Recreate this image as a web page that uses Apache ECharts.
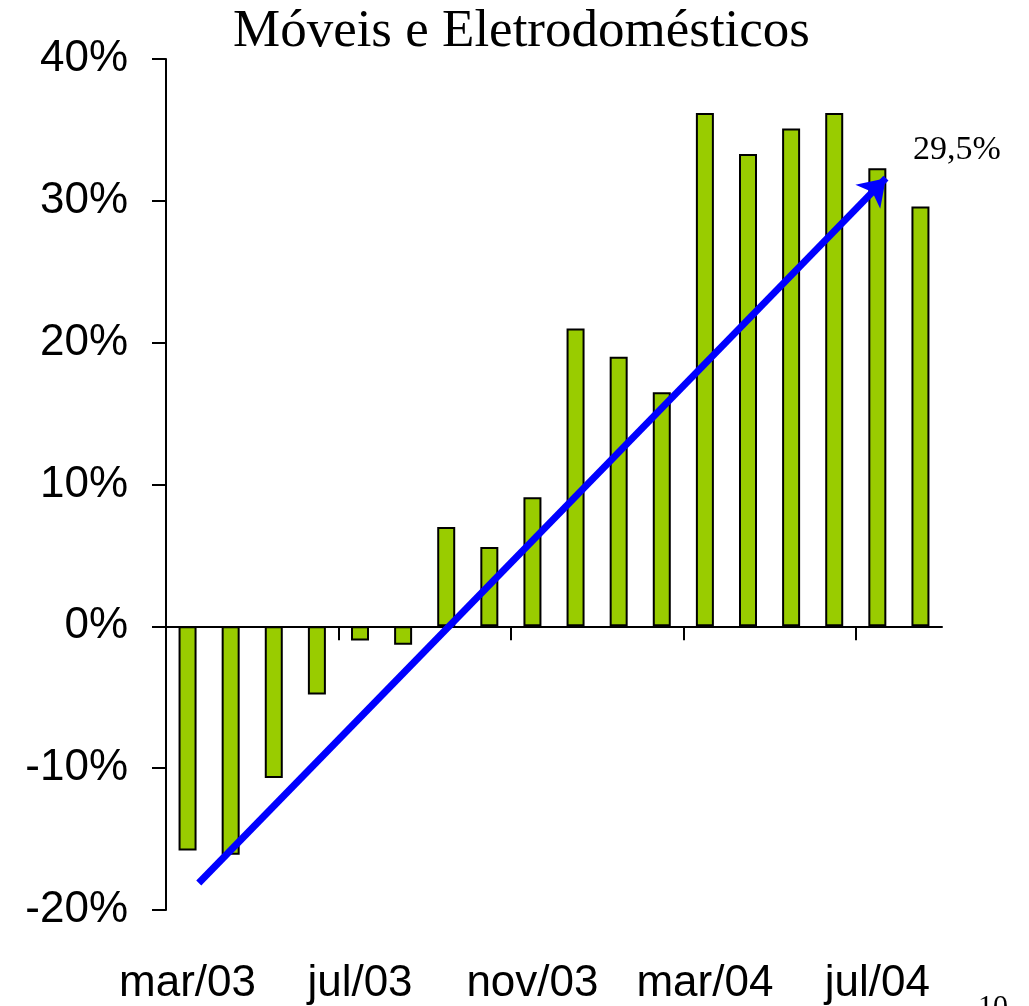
<!DOCTYPE html>
<html>
<head>
<meta charset="utf-8">
<title>Móveis e Eletrodomésticos</title>
<script src="https://cdn.jsdelivr.net/npm/echarts@6/dist/echarts.min.js"></script>
<style>
html, body { margin: 0; padding: 0; background: #fff; }
#main { width: 1029px; height: 1006px; }
</style>
</head>
<body>
<div id="main"></div>
<script>
// meses (mar/03 .. ago/04)
var months = ['mar/03', 'abr/03', 'mai/03', 'jun/03', 'jul/03', 'ago/03', 'set/03', 'out/03', 'nov/03', 'dez/03',
              'jan/04', 'fev/04', 'mar/04', 'abr/04', 'mai/04', 'jun/04', 'jul/04', 'ago/04'];
// variação %
var values = [-15.8, -16.1, -10.7, -4.8, -1.0, -1.3, 7.0, 5.6, 9.1, 21.0,
              19.0, 16.5, 36.2, 33.3, 35.1, 36.2, 32.3, 29.6];
var yTicks = [-20, -10, 0, 10, 20, 30, 40];
// marcas do eixo zero: limites antes de mar, jul, nov, mar, jul
var xTickPos = [-0.5, 3.5, 7.5, 11.5, 15.5];
// seta de tendência: [posição no eixo das categorias, valor %]
var arrowStart = [0.26, -18.1];
var arrowEnd = [16.2, 31.6];
var lastLabel = '29,5%';

var chart = echarts.init(document.getElementById('main'));

var axisFont = 'Liberation Sans, Arial, sans-serif';
var serifFont = 'Liberation Serif, Times New Roman, serif';

var option = {
  animation: false,
  backgroundColor: '#fff',
  title: {
    text: 'Móveis e Eletrodomésticos',
    left: 228,
    top: 1,
    textStyle: { fontFamily: serifFont, fontSize: 53, fontWeight: 'normal', color: '#000' }
  },
  grid: { left: 166, right: 87, top: 59, bottom: 96, containLabel: false },
  xAxis: [
    {
      // só os rótulos, embaixo
      type: 'category',
      data: months,
      position: 'bottom',
      axisLine: { show: false, onZero: false },
      axisTick: { show: false },
      axisLabel: { interval: 3, fontSize: 44, margin: 52, color: '#000', fontFamily: axisFont }
    },
    {
      // linha do zero com marcas (eixo numérico escondido, mesma escala das categorias)
      type: 'value',
      position: 'bottom',
      min: -0.5,
      max: months.length - 0.5,
      splitLine: { show: false },
      axisLine: { show: true, onZero: true, lineStyle: { color: '#000', width: 2 } },
      axisTick: { show: true, customValues: xTickPos, length: 14, lineStyle: { color: '#000', width: 2 } },
      axisLabel: { show: false }
    }
  ],
  yAxis: {
    type: 'value',
    min: yTicks[0],
    max: yTicks[yTicks.length - 1],
    interval: 10,
    axisLine: { show: true, onZero: false, lineStyle: { color: '#000', width: 2 } },
    axisTick: { show: true, length: 14, lineStyle: { color: '#000', width: 2 } },
    splitLine: { show: false },
    axisLabel: { formatter: '{value}%', fontSize: 44, margin: 38, color: '#000', fontFamily: axisFont }
  },
  series: [
    {
      type: 'bar',
      xAxisIndex: 0,
      data: values,
      barWidth: 18,
      itemStyle: { color: '#99CC00', borderColor: '#000', borderWidth: 2 }
    },
    {
      type: 'line',
      xAxisIndex: 1,
      data: [arrowStart, arrowEnd],
      symbol: 'none',
      lineStyle: { opacity: 0 },
      silent: true,
      markLine: {
        silent: true,
        symbol: ['none', 'arrow'],
        symbolSize: 26,
        label: { show: false },
        lineStyle: { color: '#0000FF', width: 7, type: 'solid' },
        data: [[{ coord: arrowStart }, { coord: arrowEnd }]]
      }
    }
  ],
  graphic: [
    {
      type: 'text',
      left: 913,
      top: 133,
      style: { text: lastLabel, font: '34px ' + serifFont, fill: '#000' }
    },
    {
      type: 'text',
      left: 978,
      top: 992,
      style: { text: '10', font: '30px ' + serifFont, fill: '#000' }
    }
  ]
};

chart.setOption(option);
</script>
</body>
</html>
